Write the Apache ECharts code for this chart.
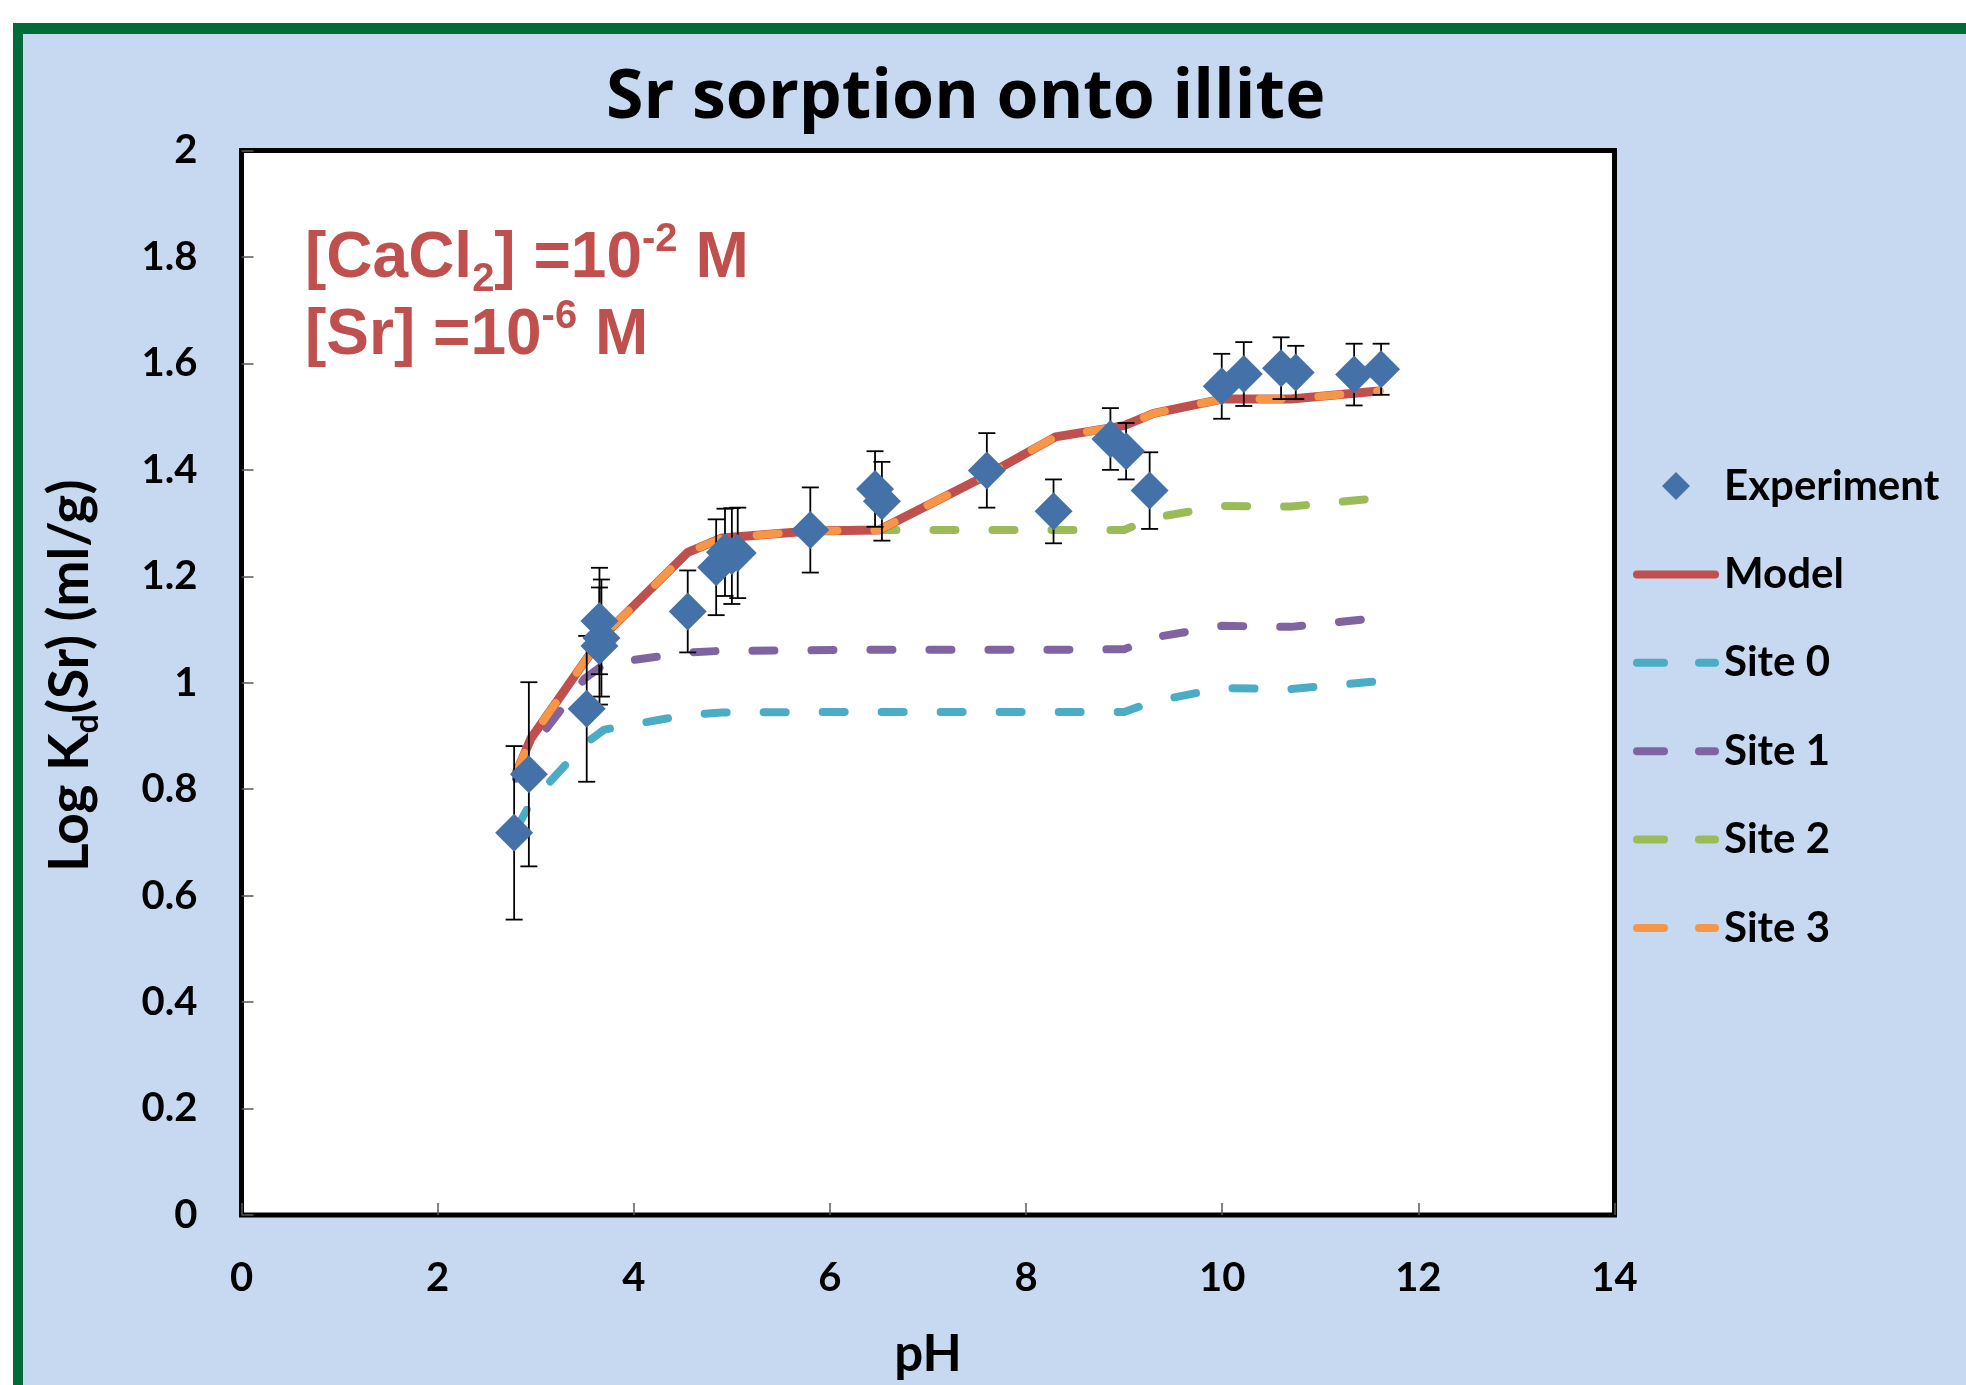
<!DOCTYPE html>
<html><head><meta charset="utf-8">
<script src="https://cdn.jsdelivr.net/npm/echarts@6/dist/echarts.min.js"></script>
<style>html,body{margin:0;padding:0;background:#fff}#c{width:1966px;height:1385px}</style>
</head><body><div id="c"></div>
<script>
// ---- data ----
const expPH    = [2.78, 2.93, 3.52, 3.65, 3.67, 3.65, 4.55, 4.84, 4.93, 5.00, 5.06, 5.80, 6.46, 6.53, 7.60, 8.28, 8.86, 9.02, 9.26, 9.995, 10.22, 10.60, 10.75, 11.345, 11.62];
const expLogKd = [0.718, 0.828, 0.951, 1.116, 1.084, 1.069, 1.134, 1.217, 1.245, 1.238, 1.244, 1.287, 1.364, 1.341, 1.399, 1.322, 1.458, 1.435, 1.361, 1.557, 1.580, 1.591, 1.583, 1.579, 1.589];
const expErr   = [0.163, 0.173, 0.137, 0.100, 0.110, 0.110, 0.077, 0.090, 0.082, 0.090, 0.085, 0.080, 0.071, 0.074, 0.070, 0.060, 0.058, 0.053, 0.072, 0.061, 0.060, 0.058, 0.050, 0.058, 0.048];

const modelPH = [2.8, 2.95, 3.5, 3.7, 4.55, 4.9, 5.8, 6.5, 7.6, 8.3, 9.0, 9.3, 10.0, 10.7, 11.6];
const model   = [0.83, 0.895, 1.04, 1.09, 1.245, 1.272, 1.285, 1.287, 1.39, 1.462, 1.483, 1.506, 1.533, 1.533, 1.548];
const site0   = [0.725, 0.775, 0.885, 0.912, 0.94, 0.944, 0.945, 0.945, 0.945, 0.945, 0.945, 0.965, 0.99, 0.988, 1.003];
const site1   = [0.82, 0.875, 1.008, 1.035, 1.057, 1.06, 1.061, 1.062, 1.062, 1.062, 1.063, 1.085, 1.107, 1.105, 1.122];
const site2   = [0.83, 0.895, 1.04, 1.09, 1.245, 1.272, 1.285, 1.287, 1.287, 1.287, 1.287, 1.31, 1.332, 1.331, 1.347];
const site3   = [0.83, 0.895, 1.04, 1.09, 1.245, 1.272, 1.285, 1.287, 1.39, 1.462, 1.483, 1.506, 1.533, 1.533, 1.548];

const xRange = [0, 14, 2];
const yRange = [0, 2, 0.2];
const legendNames = ['Experiment', 'Model', 'Site 0', 'Site 1', 'Site 2', 'Site 3'];

// ---- build ----
const pairs = (xs, ys) => xs.map((x, i) => [x, ys[i]]);
const expData = expPH.map((x, i) => [x, expLogKd[i]]);
const errData = expPH.map((x, i) => [x, expLogKd[i], expErr[i]]);

const FONT = 'Lato';
const dash = [22, 37];
function dashedLine(name, ys, color, z) {
  return {
    name, type: 'line', data: pairs(modelPH, ys), symbol: 'none', z,
    lineStyle: { color, width: 8, type: dash, cap: 'round', join: 'round' },
    itemStyle: { color }, emphasis: { disabled: true }
  };
}

// legend icons (86 x 28 box; the leading moves fix the box)
const BOX = 'M0,0M86,28';
const ICON_DIAMOND = 'path://' + BOX + 'M43,0L57,14L43,28L29,14Z';
const ICON_SOLID = 'path://' + BOX + 'M4,10L82,10A4,4,0,0,1,82,18L4,18A4,4,0,0,1,4,10Z';
const ICON_DASH = 'path://' + BOX + 'M4,10L31,10A4,4,0,0,1,31,18L4,18A4,4,0,0,1,4,10Z' +
                  'M66,10L82,10A4,4,0,0,1,82,18L66,18A4,4,0,0,1,66,10Z';
const legendIcons = [ICON_DIAMOND, ICON_SOLID, ICON_DASH, ICON_DASH, ICON_DASH, ICON_DASH];

const redRich = (size, lh, va) => ({ fontFamily: 'Liberation Sans', fontWeight: 'bold', fontSize: size, lineHeight: lh, fill: '#C0504D', verticalAlign: va });

const chart = echarts.init(document.getElementById('c'), null, { renderer: 'canvas' });
chart.setOption({
  animation: false,
  backgroundColor: '#C6D9F1',
  title: {
    text: 'Sr sorption onto illite', left: 606, top: 65, padding: 0,
    textStyle: { fontFamily: 'Open Sans', fontWeight: 'bold', fontSize: 68, color: '#000' }
  },
  graphic: [
    { type: 'rect', shape: { x: 0, y: 0, width: 1966, height: 23 }, style: { fill: '#fff' }, silent: true },
    { type: 'rect', shape: { x: 0, y: 0, width: 13, height: 1385 }, style: { fill: '#fff' }, silent: true },
    { type: 'rect', shape: { x: 13, y: 23, width: 1953, height: 11 }, style: { fill: '#006C3B' }, silent: true },
    { type: 'rect', shape: { x: 13, y: 23, width: 10, height: 1362 }, style: { fill: '#006C3B' }, silent: true },
    {
      type: 'text', x: 305, y: 219.5, z: 100, silent: true,
      style: {
        text: '{m|[CaCl}{sub|2}{m|] =10}{sup|-2}{m| M}', verticalAlign: 'top', align: 'left',
        rich: { m: redRich(64, 80, 'middle'), sub: redRich(40, 35, 'bottom'), sup: redRich(40, 61, 'top') }
      }
    },
    {
      type: 'text', x: 305, y: 296.5, z: 100, silent: true,
      style: {
        text: '{m|[Sr] =10}{sup|-6}{m| M}', verticalAlign: 'top', align: 'left',
        rich: { m: redRich(64, 80, 'middle'), sup: redRich(40, 61, 'top') }
      }
    }
  ],
  grid: {
    left: 241.5, top: 150.5, right: 1966 - 1614.5, bottom: 1385 - 1216,
    show: true, backgroundColor: '#fff', borderColor: '#000', borderWidth: 5
  },
  legend: {
    orient: 'vertical', left: 1633, top: 465, padding: 0,
    data: legendNames.map((n, i) => ({ name: n, icon: legendIcons[i] })),
    itemWidth: 86, itemHeight: 28, itemGap: 46.4,
    selectedMode: false,
    itemStyle: { borderWidth: 0 },
    textStyle: { fontFamily: FONT, fontWeight: 'bold', fontSize: 42, lineHeight: 42, color: '#000' }
  },
  xAxis: {
    type: 'value', min: xRange[0], max: xRange[1], interval: xRange[2],
    name: 'pH', nameLocation: 'middle', nameGap: 114,
    nameTextStyle: { fontFamily: FONT, fontWeight: 'bold', fontSize: 51, color: '#000' },
    axisLine: { show: false },
    axisTick: { show: true, inside: true, length: 12, lineStyle: { color: '#595959', width: 1.5 } },
    axisLabel: { margin: 43, fontFamily: FONT, fontWeight: 'bold', fontSize: 40, color: '#000' },
    splitLine: { show: false }
  },
  yAxis: {
    type: 'value', min: yRange[0], max: yRange[1], interval: yRange[2],
    name: '{m|Log K}{sub|d}{m|(Sr) (ml/g)}', nameLocation: 'middle', nameGap: 137,
    nameTextStyle: {
      padding: [0, 0, 0, 14],
      rich: {
        m: { fontFamily: FONT, fontWeight: 'bold', fontSize: 55, lineHeight: 68, color: '#000', verticalAlign: 'middle' },
        sub: { fontFamily: FONT, fontWeight: 'bold', fontSize: 34, lineHeight: 34, color: '#000', verticalAlign: 'bottom' }
      }
    },
    axisLine: { show: false },
    axisTick: { show: true, inside: true, length: 12, lineStyle: { color: '#595959', width: 1.5 } },
    axisLabel: { margin: 44, fontFamily: FONT, fontWeight: 'bold', fontSize: 40, color: '#000' },
    splitLine: { show: false }
  },
  series: [
    dashedLine('Site 0', site0, '#4BACC6', 2),
    dashedLine('Site 1', site1, '#8064A2', 2),
    dashedLine('Site 2', site2, '#9BBB59', 2),
    {
      name: 'Model', type: 'line', data: pairs(modelPH, model), symbol: 'none', z: 3,
      lineStyle: { color: '#C0504D', width: 9, cap: 'round', join: 'round' },
      itemStyle: { color: '#C0504D' }, emphasis: { disabled: true }
    },
    dashedLine('Site 3', site3, '#F79646', 4),
    {
      name: 'error', type: 'custom', data: errData, z: 5, silent: true,
      encode: { x: 0, y: 1 },
      renderItem: function (params, api) {
        const x = api.value(0), y = api.value(1), e = api.value(2);
        const p1 = api.coord([x, y + e]), p2 = api.coord([x, y - e]);
        const hw = 8.5;
        const st = { stroke: '#000', lineWidth: 1.8 };
        return {
          type: 'group', children: [
            { type: 'line', shape: { x1: p1[0], y1: p1[1], x2: p2[0], y2: p2[1] }, style: st },
            { type: 'line', shape: { x1: p1[0] - hw, y1: p1[1], x2: p1[0] + hw, y2: p1[1] }, style: st },
            { type: 'line', shape: { x1: p2[0] - hw, y1: p2[1], x2: p2[0] + hw, y2: p2[1] }, style: st }
          ]
        };
      }
    },
    {
      name: 'Experiment', type: 'scatter', data: expData, z: 6,
      symbol: 'diamond', symbolSize: 38,
      itemStyle: { color: '#4472A8', opacity: 1 }, emphasis: { disabled: true }
    }
  ]
});
</script>
</body></html>
